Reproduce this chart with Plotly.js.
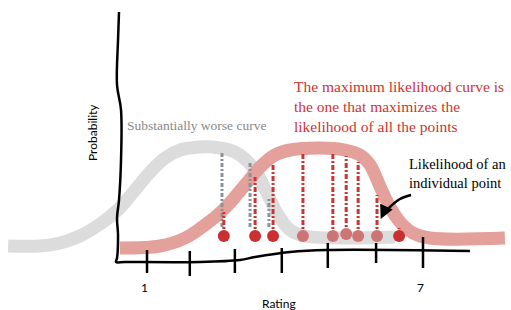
<!DOCTYPE html>
<html><head><meta charset="utf-8">
<script src="https://cdn.plot.ly/plotly-3.0.1.min.js"></script>
<style>html,body{margin:0;padding:0;background:#fff}#c{width:511px;height:310px}</style>
</head><body><div id="c"></div>
<script>
// Rating (x) / probability (y) values
const grayCurveX = [-2.02,-1.33,-0.89,-0.46,-0.02,0.41,0.74,1.07,1.39,1.72,2.15,2.59,2.91,3.20,3.41,3.63,3.85,4.11,4.43,6.39];
const grayCurveY = [0.064,0.064,0.076,0.104,0.152,0.216,0.288,0.36,0.416,0.448,0.46,0.456,0.44,0.40,0.348,0.268,0.188,0.128,0.104,0.10];
const redCurveX = [0.41,1.28,1.83,2.26,2.70,3.13,3.46,3.78,4.11,4.76,5.30,5.63,5.85,6.07,6.28,6.50,6.78,7.15,8.78];
const redCurveY = [0.056,0.064,0.096,0.148,0.216,0.308,0.38,0.428,0.448,0.456,0.448,0.428,0.388,0.30,0.22,0.16,0.116,0.096,0.096];
const pointX = [2.67,3.35,3.74,4.39,5.04,5.33,5.59,6.00,6.48];
const pointY = [0.104,0.104,0.104,0.104,0.104,0.112,0.104,0.104,0.104];
const pointOnGray = [false,false,false,true,true,true,true,true,false];
const redLineTop = [0.20,0.34,0.396,0.44,0.44,0.424,0.40,0.268,0.136];
const grayLineX = [2.63,3.24,3.65];
const grayLineTop = [0.44,0.40,0.256];
const grayLineBottom = [0.14,0.14,0.14];
const yAxisX = [0.391,0.37,0.348,0.435,0.435,0.391,0.348,0.37,0.348,0.326];
const yAxisY = [1.0,0.888,0.708,0.608,0.408,0.248,0.176,0.108,0.016,0.0];
const xAxisX = [0.326,0.52,2.15,3.02,3.35,4.11,4.91,8.02];
const xAxisY = [0.0,0.0,0.0,0.008,0.02,0.04,0.048,0.044];
const tickX = [1.0,1.93,2.91,3.93,4.93,5.98,7.0];
const tickTop = [0.048,0.044,0.052,0.056,0.076,0.076,0.10];
const tickBottom = [-0.044,-0.056,-0.044,-0.044,-0.024,-0.004,-0.024];
const tickLabels = ["1","","","","","","7"];
const arrowX = [6.74,6.50,6.28,6.13];
const arrowY = [0.268,0.252,0.22,0.19];

function segs(xs, tops, bots){
  const x=[], y=[];
  xs.forEach((v,i)=>{x.push(v,v,null); y.push(bots[i],tops[i],null);});
  return {x,y};
}
const SERIF = '"Liberation Serif", "DejaVu Serif", serif';
const SANS = 'Lato, "Open Sans", sans-serif';
const traces = [];
traces.push({x:grayCurveX,y:grayCurveY,mode:'lines',line:{color:'#dcdcdc',width:13,shape:'spline'},hoverinfo:'skip'});
traces.push({x:redCurveX,y:redCurveY,mode:'lines',line:{color:'#e4a09a',width:13,shape:'spline'},hoverinfo:'skip'});
const gs = segs(grayLineX, grayLineTop, grayLineBottom);
traces.push({x:gs.x,y:gs.y,mode:'lines',line:{color:'#8a9399',width:3,dash:'4px,2px,2px,2px'},hoverinfo:'skip'});
const rs = segs(pointX, redLineTop, pointY);
traces.push({x:rs.x,y:rs.y,mode:'lines',line:{color:'#cc3333',width:3,dash:'5px,2px,2px,2px'},hoverinfo:'skip'});
traces.push({x:pointX,y:pointY,mode:'markers',marker:{size:12,color:pointOnGray.map(g=>g?'#cd7474':'#c9302f')},hoverinfo:'skip'});
traces.push({x:yAxisX.concat(xAxisX.slice(1)),y:yAxisY.concat(xAxisY.slice(1)),mode:'lines',line:{color:'#000',width:2.5,shape:'spline'},hoverinfo:'skip'});
const ts = segs(tickX, tickTop, tickBottom);
traces.push({x:ts.x,y:ts.y,mode:'lines',line:{color:'#000',width:2.5},hoverinfo:'skip'});
traces.push({x:arrowX,y:arrowY,mode:'lines',line:{color:'#000',width:2.5,shape:'spline'},hoverinfo:'skip'});

const annotations = [];
tickX.forEach((t,i)=>{ if(tickLabels[i]) annotations.push({x:t,y:-0.1,text:tickLabels[i],showarrow:false,xshift:-3,font:{family:SANS,size:12,color:'#000'}}); });
annotations.push({x:3.87,y:-0.164,text:'Rating',showarrow:false,font:{family:SANS,size:12,color:'#000'}});
annotations.push({x:-0.196,y:0.516,text:'Probability',textangle:-90,showarrow:false,font:{family:SANS,size:12,color:'#000'}});
annotations.push({x:0.52,y:0.548,xanchor:'left',text:'Substantially worse curve',showarrow:false,font:{family:SERIF,size:13.5,color:'#888888'}});
annotations.push({x:4.15,y:0.624,xanchor:'left',align:'left',text:'The maximum likelihood curve is<br>the one that maximizes the<br>likelihood of all the points',showarrow:false,font:{family:SERIF,size:15.5,color:'#d03232'}});
annotations.push({x:6.65,y:0.354,xanchor:'left',align:'left',text:'Likelihood of an<br>individual point',showarrow:false,font:{family:SERIF,size:14.5,color:'#000'}});
annotations.push({x:6.08,y:0.172,ax:6.15,ay:0.2,axref:'x',ayref:'y',text:'',showarrow:true,arrowhead:2,arrowsize:1.1,arrowwidth:2.5,arrowcolor:'#000'});

Plotly.newPlot('c', traces, {
  width:511,height:310,margin:{l:0,r:0,t:0,b:0},
  paper_bgcolor:'#fff',plot_bgcolor:'#fff',showlegend:false,
  xaxis:{range:[-2.196,8.913],visible:false,fixedrange:true},
  yaxis:{range:[-0.192,1.048],visible:false,fixedrange:true},
  annotations
},{staticPlot:true});
</script></body></html>
